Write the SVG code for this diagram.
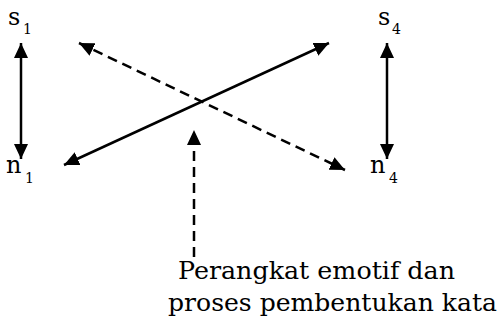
<svg xmlns="http://www.w3.org/2000/svg" width="503" height="323" viewBox="0 0 503 323">
<style>
.t{font-family:"DejaVu Serif","Liberation Serif",serif;font-size:24px;fill:#000}
.lb{font-family:"DejaVu Serif","Liberation Serif",serif;font-size:24px;fill:#000}
.sub{font-family:"DejaVu Serif","Liberation Serif",serif;font-size:14px;fill:#000}
.ln{stroke:#000;stroke-width:2.5;fill:none}
.dash{stroke-dasharray:10 6}
</style>
<defs>
<marker id="ah" markerUnits="userSpaceOnUse" markerWidth="16" markerHeight="14" viewBox="0 0 16 14" refX="15" refY="7" orient="auto-start-reverse">
<path d="M0,0 L15,7 L0,14 z" fill="#000"/>
</marker>
</defs>
<rect width="503" height="323" fill="#fff"/>
<g id="s1"><text class="t" x="8" y="25">s</text><text class="sub" x="23" y="34">1</text></g>
<g id="n1"><text class="t" x="6" y="173">n</text><text class="sub" x="25" y="183">1</text></g>
<g id="s4"><text class="t" x="378" y="25">s</text><text class="sub" x="392" y="34">4</text></g>
<g id="n4"><text class="t" x="370" y="173">n</text><text class="sub" x="389" y="183">4</text></g>
<g id="label"><text class="lb" x="178" y="279" textLength="277" lengthAdjust="spacingAndGlyphs">Perangkat emotif dan</text><text class="lb" x="168" y="311" textLength="329" lengthAdjust="spacingAndGlyphs">proses pembentukan kata</text></g>
<g id="connectors">
<line class="ln" x1="21" y1="43" x2="21" y2="159" marker-start="url(#ah)" marker-end="url(#ah)"/>
<line class="ln" x1="387" y1="43" x2="387" y2="159" marker-start="url(#ah)" marker-end="url(#ah)"/>
<line class="ln" x1="64" y1="165" x2="329" y2="43" marker-start="url(#ah)" marker-end="url(#ah)"/>
<line class="ln dash" x1="79" y1="43" x2="345" y2="170" marker-start="url(#ah)" marker-end="url(#ah)"/>
<line class="ln dash" x1="194" y1="257" x2="194" y2="130" marker-end="url(#ah)"/>
</g>
</svg>
